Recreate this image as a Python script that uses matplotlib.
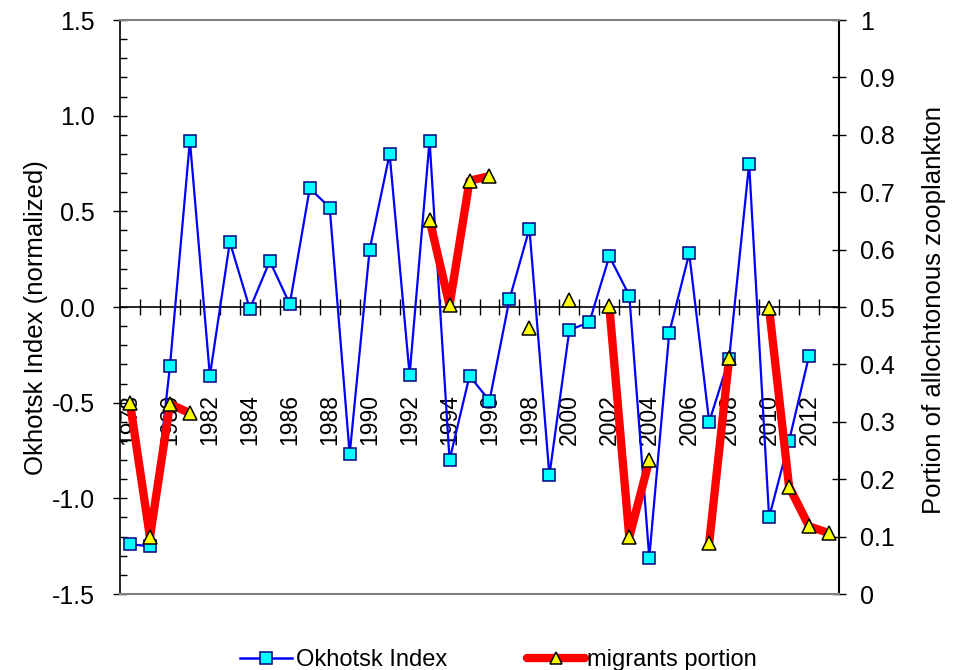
import numpy as np
import matplotlib
matplotlib.use("Agg")
import matplotlib.pyplot as plt
from matplotlib.lines import Line2D

plt.rcParams['font.family'] = ['Liberation Sans', 'DejaVu Sans']
plt.rcParams['axes.unicode_minus'] = False

nan = np.nan
years = list(range(1978, 2014))
okhotsk = [-1.24, -1.25, -0.31, 0.87, -0.36, 0.34, -0.01, 0.24, 0.015, 0.62,
           0.52, -0.77, 0.30, 0.80, -0.355, 0.87, -0.80, -0.36, -0.49, 0.04,
           0.41, -0.88, -0.12, -0.08, 0.265, 0.06, -1.31, -0.135, 0.28, -0.60,
           -0.27, 0.75, -1.10, -0.70, -0.255, nan]
migrants = [0.333, 0.099, 0.331, 0.315, nan, nan, nan, nan, nan, nan,
            nan, nan, nan, nan, nan, 0.652, 0.503, 0.72, 0.728, nan,
            0.463, nan, 0.512, nan, 0.502, 0.099, 0.233, nan, nan, 0.089,
            0.411, nan, 0.498, 0.187, 0.118, 0.106]
year_labels = list(range(1978, 2013, 2))
left_ticks = [-1.5, -1.0, -0.5, 0.0, 0.5, 1.0, 1.5]
right_ticks = [0, 0.1, 0.2, 0.3, 0.4, 0.5, 0.6, 0.7, 0.8, 0.9, 1]

TICK_FS = 18
LABEL_FS = 18.5
YEAR_FS = 16.5
LEG_FS = 17

fig = plt.figure(figsize=(9.54, 6.70), dpi=100)
ax = fig.add_axes([120/954, 1-594/670, (839-120)/954, (594-20)/670])
ax2 = ax.twinx()

ax.set_xlim(1977.5, 2013.5)
ax.set_ylim(-1.5, 1.5)
ax2.set_ylim(0, 1)

ax.plot(years, okhotsk, color='#0000FF', lw=1.6, marker='s', ms=8.6,
        mfc='#00FFFF', mec='#000080', mew=1.1, zorder=3)
ax2.plot(years, migrants, color='#FF0000', lw=6, marker='^', ms=10.5,
         mfc='#FFFF00', mec='black', mew=1.1, zorder=4, solid_capstyle='butt')

# spines
ax.spines['bottom'].set_position(('data', 0))
ax.spines['bottom'].set_color('black')
ax.spines['top'].set_visible(False)
ax.spines['right'].set_visible(False)
ax.spines['left'].set_color('black')
ax2.spines['left'].set_visible(False)
ax2.spines['top'].set_color('#808080')
ax2.spines['bottom'].set_color('#808080')
ax2.spines['right'].set_color('black')
for s in ax2.spines.values():
    s.set_linewidth(1.5)
for s in ax.spines.values():
    s.set_linewidth(1.2)

# x ticks between categories
ax.set_xticks(np.arange(1978.5, 2013.5, 1))
ax.tick_params(axis='x', direction='inout', length=11, width=1, labelbottom=False)
ax2.tick_params(axis='x', bottom=False, labelbottom=False)
for y in year_labels:
    ax.text(y, -0.455, str(y), rotation=90, ha='center', va='top', fontsize=YEAR_FS, zorder=1)

# left y
ax.set_yticks(left_ticks)
ax.set_yticklabels([f"{v:.1f}" for v in left_ticks])
ax.set_yticks(np.arange(-1.5, 1.51, 0.1), minor=True)
ax.tick_params(axis='y', which='major', direction='inout', length=10, width=1, pad=13, labelsize=TICK_FS)
ax.tick_params(axis='y', which='minor', direction='in', length=5, width=1)
ax.set_ylabel('Okhotsk Index (normalized)', fontsize=LABEL_FS)
ax.yaxis.set_label_coords((36-120)/719, (594-318)/574)
ax.yaxis.label.set_verticalalignment('center')

# right y
ax2.set_yticks(right_ticks)
ax2.set_yticklabels([f"{v:g}" for v in right_ticks])
ax2.tick_params(axis='y', direction='inout', length=10, width=1, pad=10, labelsize=TICK_FS)
ax2.set_ylabel('Portion of allochtonous zooplankton', fontsize=LABEL_FS)
ax2.yaxis.set_label_coords((934-120)/719, (594-310)/574)
ax2.yaxis.label.set_verticalalignment('center')

ax2.patch.set_visible(False)

h1 = Line2D([], [], color='#0000FF', lw=1.8, marker='s', ms=8.4,
            mfc='#00FFFF', mec='#000080', mew=1.1)
h2 = Line2D([], [], color='#FF0000', lw=6, marker='^', ms=9,
            mfc='#FFFF00', mec='black', mew=1.1, solid_capstyle='round')
ly = 1 - 660/670
fig.legend([h1], ['Okhotsk Index'], loc='center left',
           bbox_to_anchor=(240/954, ly), frameon=False, fontsize=LEG_FS,
           handlelength=2.2, handletextpad=0.17, borderpad=0, borderaxespad=0)
fig.legend([h2], ['migrants portion'], loc='center left',
           bbox_to_anchor=(527/954, ly), frameon=False, fontsize=LEG_FS,
           handlelength=2.45, handletextpad=0.08, borderpad=0, borderaxespad=0)

fig.savefig('out.png', dpi=100)
